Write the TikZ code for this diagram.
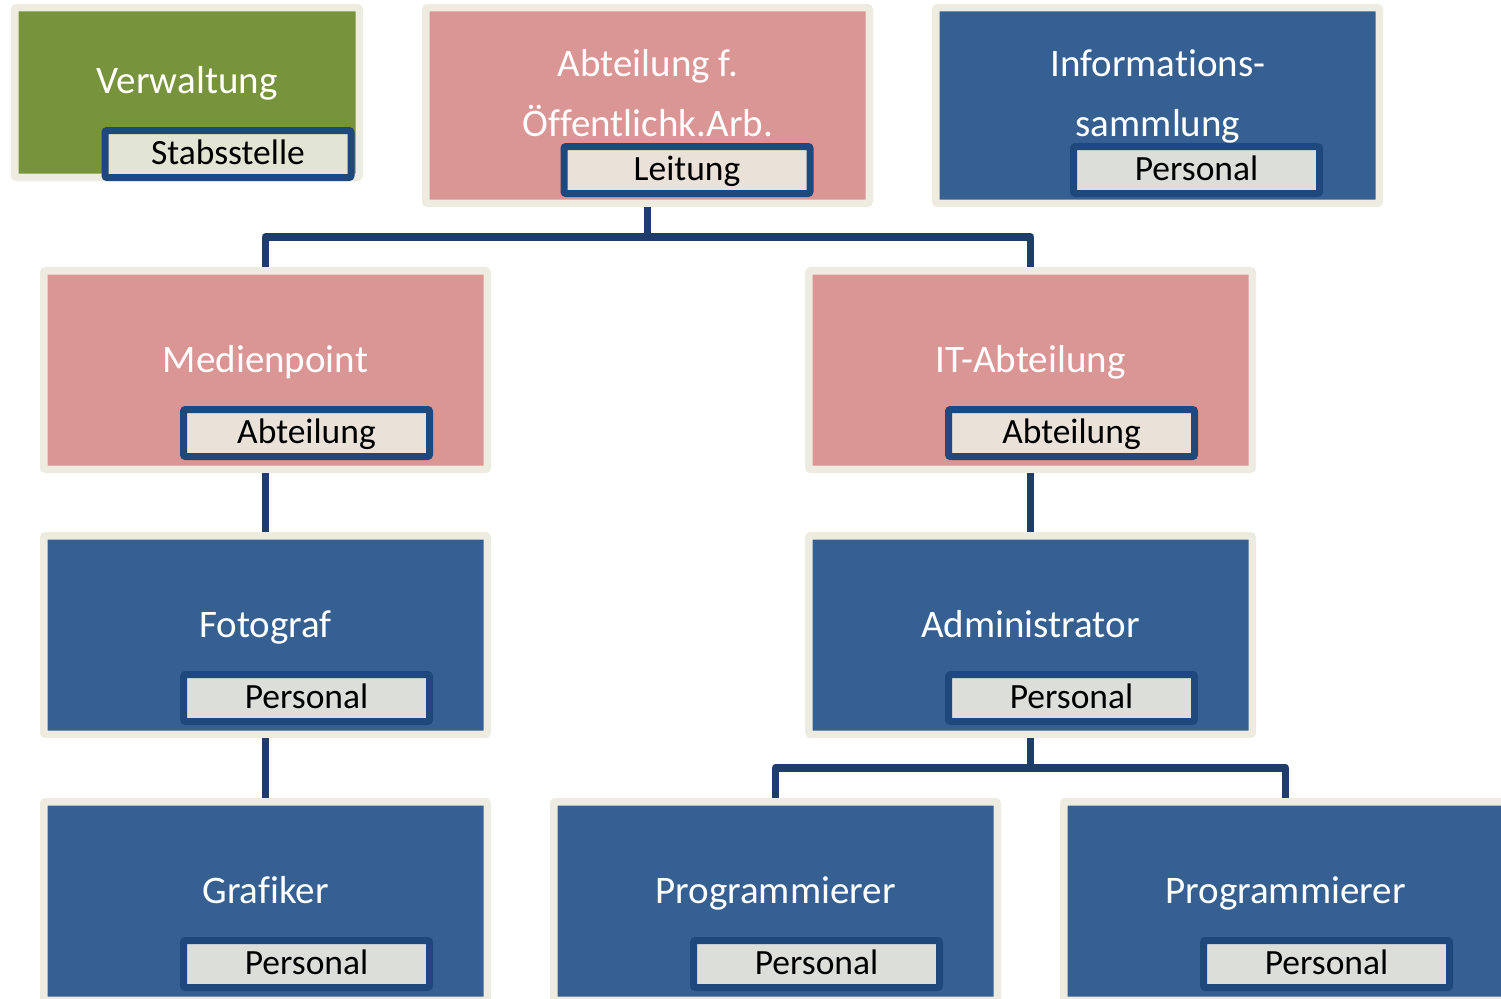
\documentclass[tikz,border=0pt]{standalone}
\usepackage{fontspec}
\setmainfont{Carlito}[Ligatures={NoCommon}]
\definecolor{frame}{HTML}{EEECE1}
\definecolor{cgreen}{HTML}{77933C}
\definecolor{cpink}{HTML}{D99694}
\definecolor{cblue}{HTML}{376092}
\definecolor{navy}{HTML}{1F487C}
\definecolor{connc}{HTML}{1F3D6B}
\definecolor{lpink}{HTML}{EAE1D9}
\definecolor{lgreen}{HTML}{E2E4D4}
\definecolor{lblue}{HTML}{DCDEDA}
\tikzset{
  unit/.style={draw=frame, line width=7.5pt, rounded corners=2pt, minimum width=443.5pt, minimum height=198.5pt, inner sep=0pt},
  title/.style={text=white, font=\fontsize{39}{60}\selectfont, align=center, inner sep=0pt, anchor=base},
  tag/.style={draw=navy, line width=7pt, rounded corners=2pt, minimum width=246pt, minimum height=47pt, inner sep=0pt, text height=26pt, text depth=6pt, font=\fontsize{35.5}{42}\selectfont, text=black},
  conn/.style={draw=connc, line width=7.5pt, line join=round},
}
\begin{document}
\begin{tikzpicture}[x=1pt,y=-1pt]
\useasboundingbox (0,0) rectangle (1501,998);
\fill[white] (0,0) rectangle (1501,998);
% top row
\node[unit, fill=cgreen, minimum width=344.5pt, minimum height=169.5pt] (verw) at (187,92.5) {};
\node[title] (verwT) at (187,93) {Verwaltung};
\node[tag, fill=lgreen] (verwL) at (228,154) {Stabsstelle};

\node[unit, fill=cpink, minimum height=195.5pt] (abt) at (647.5,105.5) {};
\node[title] (abtT1) at (648,76) {Abteilung f.};
\node[title] (abtT2) at (648,136.5) {Öffentlichk.Arb.};
\node[tag, fill=lpink] (abtL) at (687,170) {Leitung};

\node[unit, fill=cblue, minimum height=195.5pt] (info) at (1157.5,105.5) {};
\node[title] (infoT1) at (1158,76.5) {Informations-};
\node[title] (infoT2) at (1158,136) {sammlung};
\node[tag, fill=lblue] (infoL) at (1196.5,170) {Personal};

% row 2
\node[unit, fill=cpink] (med) at (265.5,370) {};
\node[title] (medT) at (265.5,372) {Medienpoint};
\node[tag, fill=lpink] (medL) at (306.5,433) {Abteilung};

\node[unit, fill=cpink] (it) at (1030.5,370) {};
\node[title] (itT) at (1030.5,372) {IT-Abteilung};
\node[tag, fill=lpink] (itL) at (1071.5,433) {Abteilung};

% row 3
\node[unit, fill=cblue] (foto) at (265.5,635) {};
\node[title] (fotoT) at (265.5,637) {Fotograf};
\node[tag, fill=lblue] (fotoL) at (306.5,698) {Personal};

\node[unit, fill=cblue] (adm) at (1030.5,635) {};
\node[title] (admT) at (1030.5,637) {Administrator};
\node[tag, fill=lblue] (admL) at (1071.5,698) {Personal};

% row 4
\node[unit, fill=cblue] (graf) at (265.5,901) {};
\node[title] (grafT) at (265.5,903) {Grafiker};
\node[tag, fill=lblue] (grafL) at (306.5,964) {Personal};

\node[unit, fill=cblue] (prog1) at (775.5,901) {};
\node[title] (prog1T) at (775.5,903) {Programmierer};
\node[tag, fill=lblue] (prog1L) at (816.5,964) {Personal};

\node[unit, fill=cblue] (prog2) at (1285.5,901) {};
\node[title] (prog2T) at (1285.5,903) {Programmierer};
\node[tag, fill=lblue] (prog2L) at (1326.5,964) {Personal};

% connectors
\draw[conn] (abt.south) -- ++(0,30) -| (med.north);
\draw[conn] (abt.south) -- ++(0,30) -| (it.north);
\draw[conn] (med.south) -- (foto.north);
\draw[conn] (foto.south) -- (graf.north);
\draw[conn] (it.south) -- (adm.north);
\draw[conn] (adm.south) -- ++(0,30) -| (prog1.north);
\draw[conn] (adm.south) -- ++(0,30) -| (prog2.north);
\end{tikzpicture}
\end{document}
